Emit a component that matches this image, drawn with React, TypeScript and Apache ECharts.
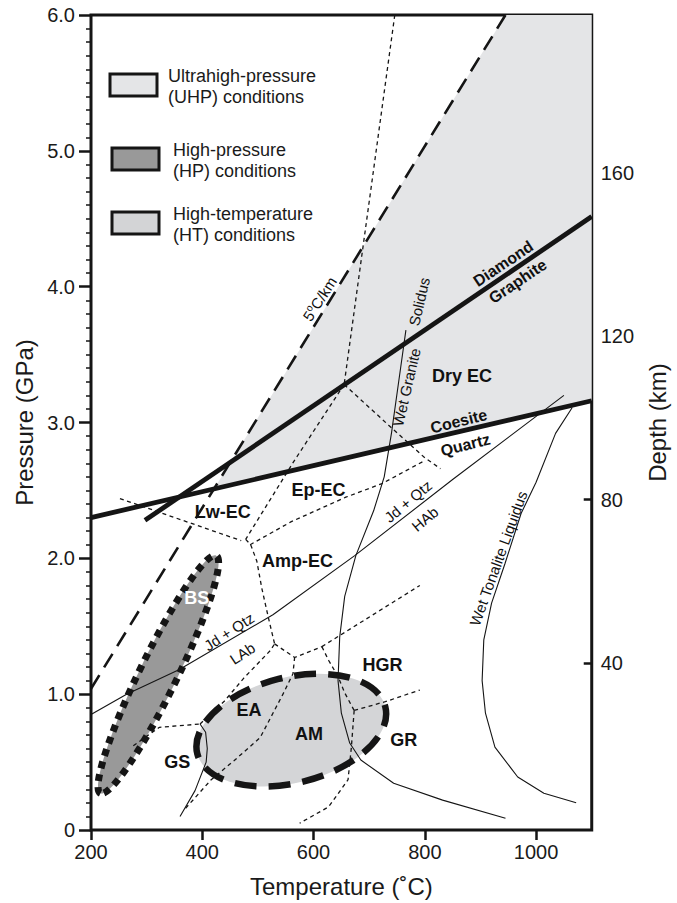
import React, { useEffect, useRef } from "react";
import * as echarts from "echarts";

const FONT = "'Liberation Sans', Arial, Helvetica, sans-serif";

// Axis ticks
const X_TICKS = [200, 400, 600, 800, 1000];
const DEPTH_TICKS = [40, 80, 120, 160];

// Thick reaction lines [T (°C), P (GPa)]
const COESITE_QUARTZ = [[200, 2.3], [1100, 3.16]];
const DIAMOND_GRAPHITE = [[297, 2.28], [1100, 4.516]];
const GEOTHERM_5 = [[200, 1.04], [945, 6.0]];

// Regions
const UHP_REGION = [[421, 2.51], [945, 6.0], [1100, 6.0], [1100, 3.16]];
const BS_ELLIPSE = { center: [321, 1.145], major: [425, 2.02], minor: [351, 1.083] };
const AM_ELLIPSE = { center: [560, 0.735], major: [729, 0.908], minor: [582, 0.357] };

// Thin solid curves
const WET_GRANITE_SOLIDUS = [[766, 3.68], [753, 3.3], [740, 2.92], [727, 2.6], [708, 2.35], [676, 2.02], [656, 1.72], [647, 1.42], [644, 1.1], [650, 0.86], [665, 0.64], [685, 0.515], [744, 0.344], [832, 0.22], [945, 0.086]];
const WET_TONALITE_LIQUIDUS = [[1065, 3.11], [1035, 2.92], [1000, 2.56], [973, 2.33], [944, 1.96], [920, 1.67], [906, 1.4], [903, 1.1], [909, 0.86], [926, 0.61], [967, 0.39], [1014, 0.27], [1072, 0.2]];
const JD_QTZ_AB = [[200, 0.85], [264, 1.0], [358, 1.18], [527, 1.585], [674, 2.02], [850, 2.58], [1050, 3.2]];
const GS_BOUNDARY = [[396, 0.78], [406, 0.72], [409, 0.6], [407, 0.5], [387, 0.29], [360, 0.1]];

// Dotted facies boundaries
const DOT_1 = [[746, 6.0], [655, 3.28]];
const DOT_2 = [[655, 3.28], [564, 2.71], [478, 2.14]];
const DOT_3 = [[655, 3.28], [735, 2.98], [800, 2.74], [828, 2.66]];
const DOT_4 = [[486, 2.1], [560, 2.27], [658, 2.45], [723, 2.55], [800, 2.72]];
const DOT_5 = [[252, 2.44], [470, 2.13]];
const DOT_6 = [[478, 2.14], [487, 2.1], [498, 1.98], [507, 1.78], [519, 1.56], [530, 1.37]];
const DOT_7 = [[530, 1.37], [566, 1.27], [615, 1.35]];
const DOT_8 = [[615, 1.35], [627, 1.25], [644, 1.13], [656, 1.01], [673, 0.88]];
const DOT_9 = [[673, 0.88], [729, 0.945], [791, 1.03]];
const DOT_10 = [[673, 0.88], [668, 0.61], [662, 0.37], [627, 0.17], [575, 0.05]];
const DOT_11 = [[276, 0.62], [323, 0.756], [396, 0.78]];
const DOT_12 = [[396, 0.78], [440, 0.95], [475, 1.12], [522, 1.32], [530, 1.37]];
const DOT_13 = [[370, 0.16], [416, 0.37], [457, 0.51], [504, 0.68], [545, 1.0], [563, 1.15], [566, 1.27]];
const DOT_14 = [[615, 1.35], [791, 1.8]];

// Labels: text, T, P, rotation (deg), kind
const LABELS = [
  { text: "Dry EC", t: 867, p: 3.34, rot: 0, kind: "field" },
  { text: "Ep-EC", t: 609, p: 2.5, rot: 0, kind: "field" },
  { text: "Lw-EC", t: 437, p: 2.34, rot: 0, kind: "field" },
  { text: "Amp-EC", t: 571, p: 1.98, rot: 0, kind: "field" },
  { text: "EA", t: 484, p: 0.88, rot: 0, kind: "field" },
  { text: "AM", t: 592, p: 0.71, rot: 0, kind: "field" },
  { text: "GS", t: 355, p: 0.5, rot: 0, kind: "field" },
  { text: "HGR", t: 724, p: 1.215, rot: 0, kind: "field" },
  { text: "GR", t: 762, p: 0.66, rot: 0, kind: "field" },
  { text: "BS", t: 390, p: 1.71, rot: 0, kind: "white" },
  { text: "Diamond", t: 941, p: 4.17, rot: 34, kind: "reaction" },
  { text: "Graphite", t: 967, p: 4.04, rot: 34, kind: "reaction" },
  { text: "Coesite", t: 861, p: 3.01, rot: 14, kind: "reaction" },
  { text: "Quartz", t: 873, p: 2.835, rot: 14, kind: "reaction" },
  { text: "Wet Granite", t: 767, p: 3.26, rot: 77, kind: "curve" },
  { text: "Solidus", t: 790, p: 3.89, rot: 77, kind: "curve" },
  { text: "Wet Tonalite Liquidus", t: 932, p: 2.0, rot: 70, kind: "curve" },
  { text: "Jd + Qtz", t: 448, p: 1.46, rot: 33, kind: "curve" },
  { text: "LAb", t: 472, p: 1.3, rot: 33, kind: "curve" },
  { text: "Jd + Qtz", t: 770, p: 2.42, rot: 40, kind: "curve" },
  { text: "HAb", t: 800, p: 2.29, rot: 40, kind: "curve" },
  { text: "5{s|o}C/km", t: 611, p: 3.91, rot: 57, kind: "curve" },
];

const LEGEND_ITEMS = [
  { lines: ["Ultrahigh-pressure", "(UHP) conditions"], fill: "#e4e5e7" },
  { lines: ["High-pressure", "(HP) conditions"], fill: "#999999" },
  { lines: ["High-temperature", "(HT) conditions"], fill: "#d3d4d6" },
];

const INK = "#151515";
const TXT = "#111111";

const LABEL_STYLE: Record<string, any> = {
  field: { font: `bold 18px ${FONT}`, fill: TXT },
  white: { font: `bold 18px ${FONT}`, fill: "#ffffff" },
  reaction: { font: `bold 16px ${FONT}`, fill: TXT },
  curve: { font: `15px ${FONT}`, fill: TXT },
};

function lineSeries(data: number[][], lineStyle: any, z = 3) {
  return {
    type: "line",
    data,
    symbol: "none",
    showSymbol: false,
    silent: true,
    z,
    lineStyle: { color: INK, ...lineStyle },
  };
}

function ellipseShape(api: any, el: any, style: any) {
  const c = api.coord(el.center);
  const m = api.coord(el.major);
  const n = api.coord(el.minor);
  const rx = Math.hypot(m[0] - c[0], m[1] - c[1]);
  const ry = Math.hypot(n[0] - c[0], n[1] - c[1]);
  const ang = Math.atan2(m[1] - c[1], m[0] - c[0]);
  return {
    type: "ellipse",
    x: c[0],
    y: c[1],
    rotation: -ang,
    shape: { cx: 0, cy: 0, rx, ry },
    style,
  };
}

function customSeries(render: (api: any) => any, z: number) {
  return {
    type: "custom",
    coordinateSystem: "cartesian2d",
    data: [[0, 0]],
    silent: true,
    z,
    renderItem: (_p: any, api: any) => render(api),
  };
}

export default function App() {
  const ref = useRef<HTMLDivElement>(null);

  useEffect(() => {
    if (!ref.current) return;
    const chart = echarts.init(ref.current, null, { renderer: "svg" });

    const dotted = { width: 1.3, type: [4, 3.5] };
    const thin = { width: 1.1 };
    const thick = { width: 4.8 };

    const legendGraphics: any[] = [];
    const legendRects = [
      { x: 110, y: 74 },
      { x: 112, y: 148 },
      { x: 112, y: 212 },
    ];
    const legendTextX = [168, 173, 173];
    LEGEND_ITEMS.forEach((it, i) => {
      const r = legendRects[i];
      legendGraphics.push({
        type: "rect",
        shape: { x: r.x, y: r.y, width: 47, height: 22 },
        style: { fill: it.fill, stroke: INK, lineWidth: 3 },
        z: 100,
      });
      it.lines.forEach((txt, j) => {
        legendGraphics.push({
          type: "text",
          x: legendTextX[i],
          y: r.y + 2 + j * 21,
          style: {
            text: txt,
            fill: "#1a1a1a",
            font: `18px ${FONT}`,
            align: "left",
            verticalAlign: "middle",
          },
          z: 100,
        });
      });
    });

    const option: any = {
      animation: false,
      textStyle: { fontFamily: FONT },
      grid: {
        left: 91,
        right: 77,
        top: 15,
        bottom: 73,
        show: true,
        borderColor: INK,
        borderWidth: 3,
        backgroundColor: "transparent",
      },
      xAxis: {
        type: "value",
        min: 200,
        max: 1100,
        name: "Temperature (˚C)",
        nameLocation: "middle",
        nameGap: 44,
        nameTextStyle: { fontSize: 24, color: "#1a1a1a", fontFamily: FONT },
        axisLine: { show: false },
        axisTick: { show: true, length: 10, customValues: X_TICKS, lineStyle: { color: INK, width: 2.5 } },
        axisLabel: {
          customValues: X_TICKS,
          fontSize: 20,
          color: "#1a1a1a",
          margin: 12,
          fontFamily: FONT,
          formatter: (v: number) => String(v),
        },
        splitLine: { show: false },
      },
      yAxis: [
        {
          type: "value",
          min: 0,
          max: 6,
          interval: 1,
          position: "left",
          name: "Pressure (GPa)",
          nameLocation: "middle",
          nameGap: 54,
          nameRotate: 90,
          nameTextStyle: { fontSize: 24, color: "#1a1a1a", fontFamily: FONT },
          axisLine: { show: false },
          axisTick: { show: true, length: 12, lineStyle: { color: INK, width: 2.5 } },
          minorTick: { show: true, splitNumber: 10, length: 5, lineStyle: { color: INK, width: 1.5 } },
          axisLabel: {
            fontSize: 20,
            color: "#1a1a1a",
            margin: 16,
            fontFamily: FONT,
            formatter: (v: number) => (v === 0 ? "0" : v.toFixed(1)),
          },
          splitLine: { show: false },
          minorSplitLine: { show: false },
        },
        {
          type: "value",
          min: -1,
          max: 198.8,
          position: "right",
          name: "Depth (km)",
          nameLocation: "middle",
          nameGap: 52,
          nameRotate: 90,
          nameTextStyle: { fontSize: 24, color: "#1a1a1a", fontFamily: FONT },
          axisLine: { show: false },
          axisTick: { show: true, inside: true, length: 8, customValues: DEPTH_TICKS, lineStyle: { color: INK, width: 2.5 } },
          axisLabel: {
            customValues: DEPTH_TICKS,
            fontSize: 20,
            color: "#1a1a1a",
            margin: 9,
            fontFamily: FONT,
            formatter: (v: number) => String(v),
          },
          splitLine: { show: false },
        },
      ],
      graphic: legendGraphics,
      series: [
        customSeries(
          (api) => ({
            type: "polygon",
            shape: { points: UHP_REGION.map((p) => api.coord(p)) },
            style: { fill: "#e4e5e7" },
          }),
          1
        ),
        customSeries((api) => ellipseShape(api, BS_ELLIPSE, { fill: "#999999" }), 1),
        customSeries((api) => ellipseShape(api, AM_ELLIPSE, { fill: "#d4d5d7" }), 1),

        lineSeries(DOT_1, dotted),
        lineSeries(DOT_2, dotted),
        lineSeries(DOT_3, dotted),
        lineSeries(DOT_4, dotted),
        lineSeries(DOT_5, dotted),
        lineSeries(DOT_6, dotted),
        lineSeries(DOT_7, dotted),
        lineSeries(DOT_8, dotted),
        lineSeries(DOT_9, dotted),
        lineSeries(DOT_10, dotted),
        lineSeries(DOT_11, dotted),
        lineSeries(DOT_12, dotted),
        lineSeries(DOT_13, dotted),
        lineSeries(DOT_14, dotted),

        lineSeries(WET_GRANITE_SOLIDUS, thin),
        lineSeries(WET_TONALITE_LIQUIDUS, thin),
        lineSeries(JD_QTZ_AB, thin),
        lineSeries(GS_BOUNDARY, thin),

        lineSeries(GEOTHERM_5, { width: 2.6, type: [16, 9] }, 4),
        lineSeries(COESITE_QUARTZ, thick, 4),
        lineSeries(DIAMOND_GRAPHITE, thick, 4),

        customSeries(
          (api) =>
            ellipseShape(api, BS_ELLIPSE, {
              fill: "none",
              stroke: INK,
              lineWidth: 7,
              lineDash: [7, 6],
              lineCap: "butt",
            }),
          5
        ),
        customSeries(
          (api) =>
            ellipseShape(api, AM_ELLIPSE, {
              fill: "none",
              stroke: INK,
              lineWidth: 6.5,
              lineDash: [22, 12],
              lineCap: "butt",
            }),
          5
        ),

        {
          type: "custom",
          coordinateSystem: "cartesian2d",
          silent: true,
          z: 10,
          data: LABELS.map((l) => [l.t, l.p]),
          renderItem: (params: any, api: any) => {
            const l = LABELS[params.dataIndex];
            const pt = api.coord([api.value(0), api.value(1)]);
            const st = LABEL_STYLE[l.kind];
            return {
              type: "text",
              x: pt[0],
              y: pt[1],
              rotation: (l.rot * Math.PI) / 180,
              style: {
                text: l.text,
                font: st.font,
                fill: st.fill,
                align: "center",
                verticalAlign: "middle",
                rich: { s: { fontSize: 10, fontFamily: FONT, fill: TXT, padding: [0, 0, 8, 0] } },
              },
            };
          },
        },
      ],
    };

    chart.setOption(option);
    return () => chart.dispose();
  }, []);

  return (
    <div
      ref={ref}
      style={{ position: "absolute", left: 0, top: 0, width: 677, height: 903, background: "#fff" }}
    />
  );
}
